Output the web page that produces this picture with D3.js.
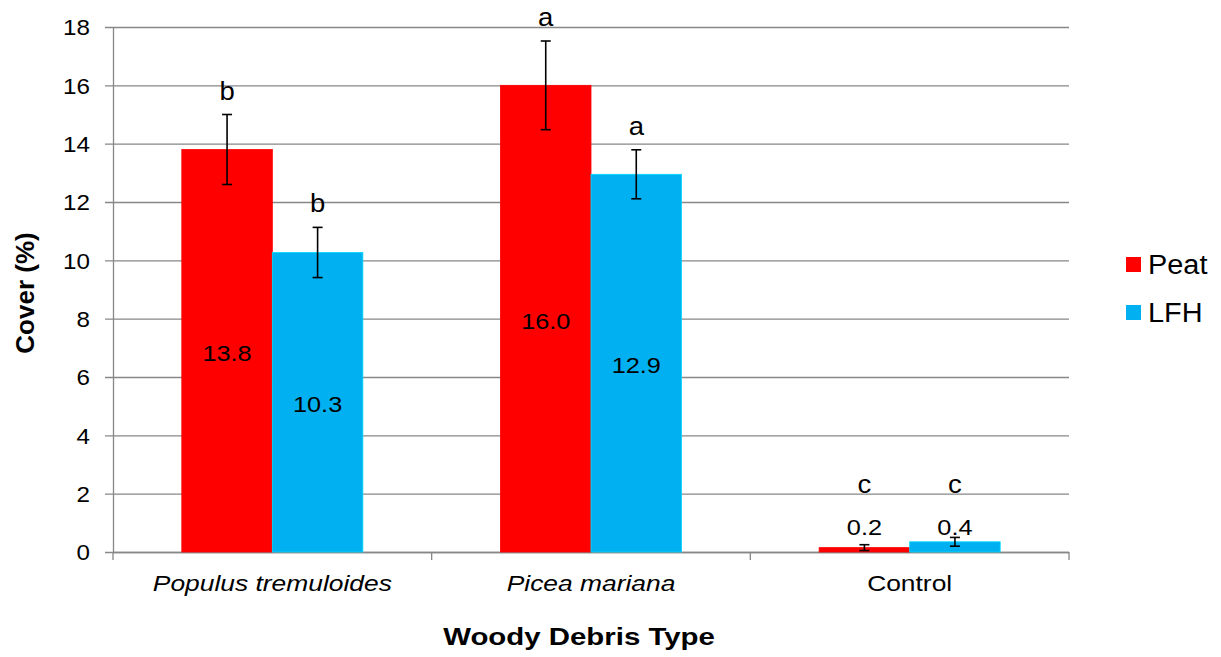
<!DOCTYPE html>
<html>
<head>
<meta charset="utf-8">
<script src="https://cdn.jsdelivr.net/npm/d3@7"></script>
<style>
  body { margin: 0; background: #fff; }
  svg { font-family: "Liberation Sans", Arial, sans-serif; }
</style>
</head>
<body>
<svg id="chart" width="1221" height="657"></svg>
<script>
// data
var categories = ["Populus tremuloides", "Picea mariana", "Control"];
var italicCats = [true, true, false];
var series = ["Peat", "LFH"];
var colors = ["#FF0000", "#00B0F0"];
var peatValues = [13.8, 16.0, 0.15];
var lfhValues = [10.27, 12.95, 0.35];
var peatErrors = [1.2, 1.52, 0.1];
var lfhErrors = [0.86, 0.84, 0.15];
var peatLabels = ["13.8", "16.0", "0.2"];
var lfhLabels = ["10.3", "12.9", "0.4"];
var peatLetters = ["b", "a", "c"];
var lfhLetters = ["b", "a", "c"];
var yTicks = [0, 2, 4, 6, 8, 10, 12, 14, 16, 18];

var svg = d3.select("#chart");
var plotLeft = 113, plotRight = 1069, plotTop = 27, plotBottom = 552;
var gridColor = "#878787";

var y = d3.scaleLinear().domain([0, 18]).range([plotBottom, plotTop]);
var x0 = d3.scaleBand().domain(categories).range([plotLeft, plotRight]).padding(0);
var x1 = d3.scaleBand().domain(series).range([0, x0.bandwidth()])
    .paddingInner(0).paddingOuter(0.76);

// text helper: place at (x,y) with a horizontal stretch
function stretched(sel, fx, fy, sx) {
  return sel.attr("transform", function(d, i) {
    return "translate(" + fx(d, i) + "," + fy(d, i) + ") scale(" + sx + ",1)";
  });
}

// build rows
var rows = [];
categories.forEach(function(c, i) {
  rows.push({cat: c, s: "Peat", v: peatValues[i], e: peatErrors[i], lab: peatLabels[i], let: peatLetters[i], col: colors[0]});
  rows.push({cat: c, s: "LFH", v: lfhValues[i], e: lfhErrors[i], lab: lfhLabels[i], let: lfhLetters[i], col: colors[1]});
});

// gridlines
svg.append("g").selectAll("line").data(yTicks).enter().append("line")
  .attr("x1", plotLeft - 8).attr("x2", plotRight)
  .attr("y1", function(d) { return y(d) + 0.5; }).attr("y2", function(d) { return y(d) + 0.5; })
  .attr("stroke", gridColor).attr("stroke-width", 1.3);

// y axis
var yAxis = svg.append("g").attr("transform", "translate(" + plotLeft + ",0)")
  .call(d3.axisLeft(y).tickValues(yTicks).tickSize(0).tickPadding(23));
yAxis.select(".domain").attr("stroke", gridColor).attr("stroke-width", 1.3);
yAxis.selectAll(".tick text")
  .attr("font-size", 22).attr("fill", "#000")
  .attr("font-family", "Liberation Sans, Arial, sans-serif")
  .attr("x", null).attr("dy", "0.36em")
  .attr("transform", "translate(-23,0) scale(1.1,1)");

// x axis line with separator ticks
var xAxis = svg.append("g").attr("transform", "translate(0," + plotBottom + ")");
xAxis.append("line").attr("x1", plotLeft).attr("x2", plotRight).attr("y1", 0.5).attr("y2", 0.5)
  .attr("stroke", gridColor).attr("stroke-width", 1.3);
var seps = categories.map(function(c) { return x0(c); }).concat([plotRight]);
xAxis.selectAll(".sep").data(seps).enter().append("line")
  .attr("x1", function(d) { return d; }).attr("x2", function(d) { return d; })
  .attr("y1", 0).attr("y2", 8).attr("stroke", gridColor).attr("stroke-width", 1.3);
stretched(xAxis.selectAll(".cat").data(categories).enter().append("text"),
    function(d) { return x0(d) + x0.bandwidth() / 2; }, function() { return 39; }, 1.2)
  .attr("text-anchor", "middle").attr("font-size", 22)
  .attr("font-style", function(d, i) { return italicCats[i] ? "italic" : "normal"; })
  .text(function(d) { return d; });

// bars
svg.append("g").selectAll("rect").data(rows).enter().append("rect")
  .attr("x", function(d) { return x0(d.cat) + x1(d.s); })
  .attr("y", function(d) { return y(d.v); })
  .attr("width", x1.bandwidth())
  .attr("height", function(d) { return y(0) - y(d.v); })
  .attr("fill", function(d) { return d.col; })
  .attr("stroke", function(d) { return d3.color(d.col).brighter(0.6); })
  .attr("stroke-width", 0.8);

function cx(d) { return x0(d.cat) + x1(d.s) + x1.bandwidth() / 2; }
function labelBase(d) {
  return d.v < 2 ? y(0) - 17 : (y(d.v) + y(0)) / 2 + 10;
}

// value labels
stretched(svg.append("g").selectAll("text").data(rows).enter().append("text"), cx, labelBase, 1.15)
  .attr("text-anchor", "middle").attr("font-size", 22).attr("fill", "#000")
  .text(function(d) { return d.lab; });

// error bars
var eb = svg.append("g").attr("stroke", "#000").attr("stroke-width", 1.6);
rows.forEach(function(d) {
  var c = cx(d);
  var t = y(d.v + d.e), b = y(Math.max(0, d.v - d.e));
  eb.append("line").attr("x1", c).attr("x2", c).attr("y1", t).attr("y2", b);
  eb.append("line").attr("x1", c - 5).attr("x2", c + 5).attr("y1", t).attr("y2", t);
  eb.append("line").attr("x1", c - 5).attr("x2", c + 5).attr("y1", b).attr("y2", b);
});

// significance letters
stretched(svg.append("g").selectAll("text").data(rows).enter().append("text"), cx,
    function(d) { return Math.min(y(d.v + d.e) - 15, labelBase(d) - 42); }, 1.1)
  .attr("text-anchor", "middle").attr("font-size", 25).attr("fill", "#000")
  .text(function(d) { return d.let; });

// axis titles
svg.append("text").attr("transform", "translate(34,293) rotate(-90)")
  .attr("text-anchor", "middle").attr("font-size", 26).attr("font-weight", "bold")
  .text("Cover (%)");
svg.append("text").attr("transform", "translate(579,645) scale(1.2,1)")
  .attr("text-anchor", "middle").attr("font-size", 24.5).attr("font-weight", "bold")
  .text("Woody Debris Type");

// legend
var legend = svg.append("g").attr("transform", "translate(1126,257)");
series.forEach(function(s, i) {
  var g = legend.append("g").attr("transform", "translate(0," + (i * 48) + ")");
  g.append("rect").attr("width", 15).attr("height", 15).attr("fill", colors[i]);
  g.append("text").attr("transform", "translate(22,17) scale(1.07,1)")
    .attr("font-size", 27).text(s);
});
</script>
</body>
</html>
